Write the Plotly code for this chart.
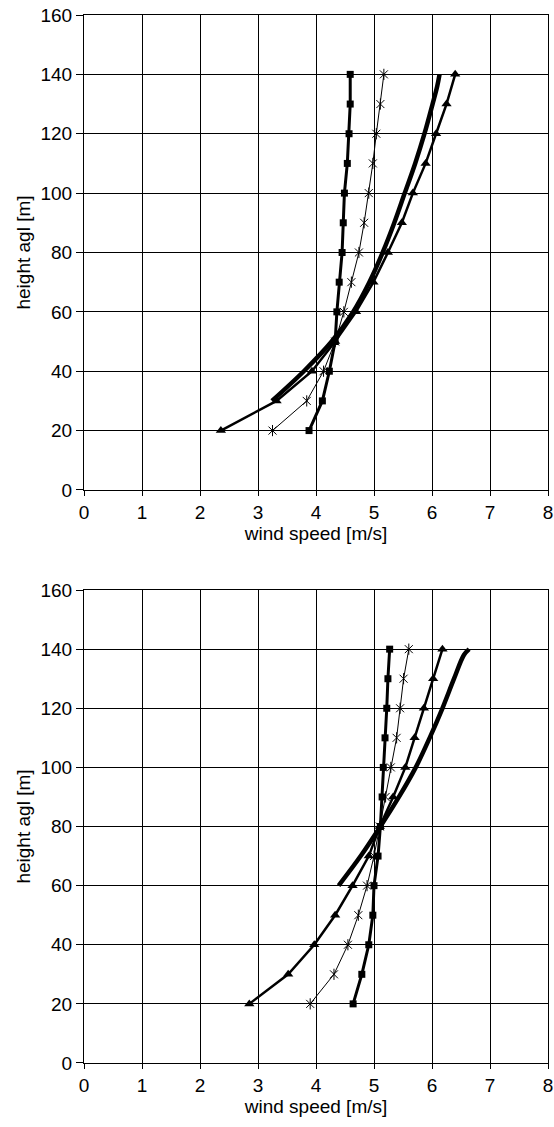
import plotly.graph_objects as go

heights = [20, 30, 40, 50, 60, 70, 80, 90, 100, 110, 120, 130, 140]

# Top panel
top_sq = [3.88, 4.11, 4.23, 4.33, 4.36, 4.40, 4.45, 4.47, 4.49, 4.54, 4.57, 4.59, 4.59]
top_x = [3.25, 3.84, 4.13, 4.33, 4.48, 4.61, 4.74, 4.83, 4.91, 4.98, 5.04, 5.11, 5.17]
top_tri = [2.36, 3.32, 3.93, 4.33, 4.69, 4.99, 5.24, 5.48, 5.67, 5.89, 6.07, 6.25, 6.40]
top_fit_h = [30, 40, 50, 60, 70, 80, 90, 100, 110, 120, 130, 136, 140]
top_fit = [3.24, 3.79, 4.27, 4.64, 4.92, 5.15, 5.35, 5.53, 5.71, 5.87, 6.01, 6.09, 6.13]

# Bottom panel
bot_sq = [4.64, 4.79, 4.91, 4.98, 5.00, 5.07, 5.11, 5.14, 5.16, 5.19, 5.22, 5.24, 5.27]
bot_x = [3.90, 4.31, 4.55, 4.73, 4.88, 5.00, 5.10, 5.20, 5.29, 5.39, 5.45, 5.51, 5.60]
bot_tri = [2.85, 3.52, 3.97, 4.33, 4.63, 4.91, 5.10, 5.33, 5.54, 5.70, 5.86, 6.02, 6.18]
bot_fit_h = [60, 70, 80, 90, 100, 110, 120, 130, 138, 140]
bot_fit = [4.39, 4.77, 5.11, 5.43, 5.72, 5.96, 6.18, 6.38, 6.55, 6.64]

x_ticks = [0, 1, 2, 3, 4, 5, 6, 7, 8]
y_ticks = [0, 20, 40, 60, 80, 100, 120, 140, 160]

FONT = "Liberation Sans, Arial, sans-serif"

fig = go.Figure()

def add_panel(xa, ya, sq, xs, tri, fit_h, fit):
    fig.add_trace(go.Scatter(x=fit, y=fit_h, mode="lines", line=dict(color="black", width=4.5, shape="spline"),
                             xaxis=xa, yaxis=ya, showlegend=False))
    fig.add_trace(go.Scatter(x=tri, y=heights, mode="lines+markers",
                             line=dict(color="black", width=2.5),
                             marker=dict(symbol="triangle-up", size=9, color="black"),
                             xaxis=xa, yaxis=ya, showlegend=False))
    fig.add_trace(go.Scatter(x=xs, y=heights, mode="lines+markers",
                             line=dict(color="black", width=1),
                             marker=dict(symbol="x-thin-open", size=8, color="black",
                                         line=dict(color="black", width=1)),
                             xaxis=xa, yaxis=ya, showlegend=False))
    fig.add_trace(go.Scatter(x=xs, y=heights, mode="markers",
                             marker=dict(symbol="line-ns-open", size=8, color="black",
                                         line=dict(color="black", width=1)),
                             xaxis=xa, yaxis=ya, showlegend=False))
    fig.add_trace(go.Scatter(x=sq, y=heights, mode="lines+markers",
                             line=dict(color="black", width=3),
                             marker=dict(symbol="square", size=7, color="black"),
                             xaxis=xa, yaxis=ya, showlegend=False))

add_panel("x", "y", top_sq, top_x, top_tri, top_fit_h, top_fit)
add_panel("x2", "y2", bot_sq, bot_x, bot_tri, bot_fit_h, bot_fit)

xcommon = dict(range=[0, 8], tickvals=x_ticks, showgrid=True, gridcolor="#000", gridwidth=1,
               showline=True, linecolor="#000", linewidth=1, mirror=True, automargin=False,
               ticks="outside", ticklen=5, tickcolor="#000", zeroline=False,
               ticklabeloverflow="allow",
               tickfont=dict(family=FONT, size=19, color="black"),
               title=dict(text="wind speed [m/s]", font=dict(family=FONT, size=19, color="black"), standoff=2))
ycommon = dict(range=[0, 160], tickvals=y_ticks, showgrid=True, gridcolor="#000", gridwidth=1,
               showline=True, linecolor="#000", linewidth=1, mirror=True, automargin=False,
               ticks="outside", ticklen=7, tickcolor="#000", zeroline=False,
               ticklabeloverflow="allow",
               tickfont=dict(family=FONT, size=19, color="black"),
               title=dict(text="height agl [m]", font=dict(family=FONT, size=19, color="black"), standoff=4))

fig.update_layout(
    width=554, height=1127,
    margin=dict(l=84, r=6, t=15, b=64),
    paper_bgcolor="white", plot_bgcolor="white",
    hovermode=False,
    xaxis=dict(xcommon, anchor="y"),
    yaxis=dict(ycommon, domain=[0.5468, 1.0], anchor="x"),
    xaxis2=dict(xcommon, anchor="y2"),
    yaxis2=dict(ycommon, domain=[0.0, 0.4513], anchor="x2"),
)

fig.write_html("out.html", config={"displayModeBar": False, "staticPlot": True},
               post_script="document.body.style.margin='0';document.body.style.overflow='hidden';")
